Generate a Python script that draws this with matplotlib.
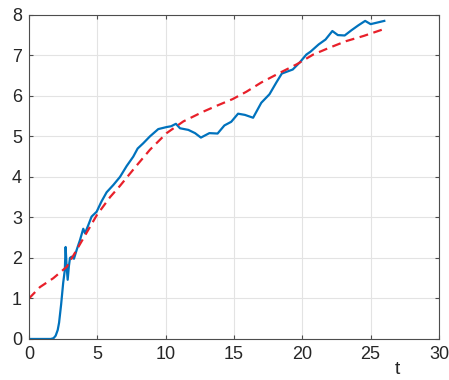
import numpy as np
import matplotlib
matplotlib.use("Agg")
import matplotlib.pyplot as plt

t_meas = [0.0, 1.0, 1.6, 1.8, 1.95, 2.1, 2.2, 2.35, 2.5, 2.62, 2.68, 2.75, 2.83, 2.92, 3.0,
          3.12, 3.29, 3.49, 3.73, 3.97, 4.1, 4.34, 4.58, 4.95, 5.3, 5.68,
          6.17, 6.66, 7.15, 7.63, 7.95, 8.36, 8.85, 9.46, 10.07, 10.4, 10.75,
          11.05, 11.66, 12.15, 12.58, 13.2, 13.8, 14.3, 14.8, 15.3, 15.8,
          16.4, 17.0, 17.6, 18.1, 18.5, 18.98, 19.3, 19.8, 20.3, 20.6, 21.2,
          21.7, 22.2, 22.6, 23.1, 23.6, 24.1, 24.6, 25.0, 25.5, 26.0]
v_meas = [0.0, 0.0, 0.0, 0.02, 0.08, 0.22, 0.4, 0.85, 1.38, 1.7, 2.27, 1.8, 1.46, 1.8, 2.0,
          2.03, 1.98, 2.2, 2.44, 2.72, 2.61, 2.81, 3.02, 3.14, 3.39, 3.62,
          3.8, 4.0, 4.27, 4.5, 4.7, 4.83, 5.0, 5.18, 5.23, 5.25, 5.31,
          5.2, 5.16, 5.08, 4.97, 5.08, 5.07, 5.27, 5.36, 5.56, 5.53,
          5.46, 5.83, 6.04, 6.33, 6.55, 6.61, 6.65, 6.82, 7.02, 7.09, 7.27,
          7.39, 7.6, 7.5, 7.49, 7.62, 7.74, 7.85, 7.77, 7.81, 7.85]

# red (fitted) dashed curve
t_fit = [0.0, 0.8, 1.78, 2.76, 3.49, 4.95, 5.93, 6.66, 7.8, 8.85, 10.07,
         11.3, 12.75, 13.7, 14.9, 15.9, 17.0, 18.36, 19.6, 20.8, 22.0,
         23.2, 24.5, 25.9]
v_fit = [1.0, 1.28, 1.5, 1.78, 2.2, 3.05, 3.5, 3.78, 4.25, 4.67, 5.08,
         5.37, 5.61, 5.75, 5.92, 6.1, 6.33, 6.57, 6.78, 7.02, 7.19,
         7.35, 7.48, 7.64]

plt.rcParams['font.family'] = ['Liberation Sans', 'DejaVu Sans']

fig = plt.figure(figsize=(4.49, 3.8), dpi=100)
ax = fig.add_axes([0.0646, 0.108, 0.913, 0.853])

ax.plot(t_meas, v_meas, color='#0072BD', linewidth=1.6)
ax.plot(t_fit, v_fit, color='#E8202A', linewidth=1.6, linestyle=(0, (4, 2.5)))

ax.set_xlim(0, 30)
ax.set_ylim(0, 8)
ax.set_xticks(np.arange(0, 31, 5))
ax.set_yticks(np.arange(0, 9, 1))
ax.grid(True, color='#e3e3e3', linewidth=0.8)
ax.set_axisbelow(True)

for s in ax.spines.values():
    s.set_color('#4d4d4d')
    s.set_linewidth(0.8)
ax.tick_params(direction='in', top=True, right=True, length=3,
               color='#4d4d4d', labelsize=13, labelcolor='#262626', pad=5)

ax.set_xlabel('t', fontsize=14, color='#262626')
ax.xaxis.set_label_coords(0.898, -0.068)

fig.savefig('out.png', dpi=100)
